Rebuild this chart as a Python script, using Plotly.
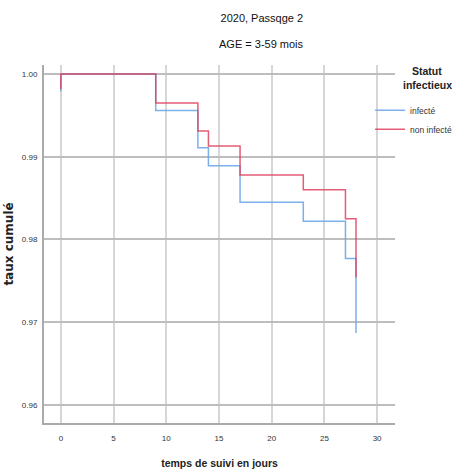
import plotly.graph_objects as go

# Data
times = [0, 9, 13, 14, 17, 23, 27, 28]
infecte = [1.0, 0.9956, 0.9911, 0.9889, 0.9845, 0.9822, 0.9777, 0.9687]
non_infecte = [1.0, 0.9965, 0.9931, 0.9913, 0.9878, 0.9860, 0.9825, 0.9754]
start_infecte = 0.9979
start_non_infecte = 0.9982
x_ticks = [0, 5, 10, 15, 20, 25, 30]
y_ticks = [0.96, 0.97, 0.98, 0.99, 1.00]

SANS = "Liberation Sans, Arial, sans-serif"

fig = go.Figure()
fig.add_trace(go.Scatter(
    x=[times[0]] + times, y=[start_infecte] + infecte,
    mode="lines", line=dict(shape="hv", color="#6FA8E8", width=1.5),
    opacity=0.9, name="infecté"))
fig.add_trace(go.Scatter(
    x=[times[0]] + times, y=[start_non_infecte] + non_infecte,
    mode="lines", line=dict(shape="hv", color="#E0405E", width=1.5),
    opacity=0.85, name="non infecté"))

fig.update_layout(
    width=453, height=470,
    margin=dict(l=44, r=58, t=65, b=47, autoexpand=False),
    paper_bgcolor="white", plot_bgcolor="white",
    font=dict(family=SANS, color="#222"),
    title=dict(text="2020, Passqge 2", x=0.578, xanchor="center", xref="container",
               y=1 - 18 / 470, yanchor="middle", yref="container",
               font=dict(size=11, family=SANS, color="#111")),
    showlegend=True,
    legend=dict(x=0.929, y=0.914, xanchor="left", yanchor="top",
                bgcolor="rgba(0,0,0,0)", font=dict(size=8.5, family=SANS, color="#333"),
                tracegroupgap=0),
    annotations=[
        dict(text="AGE = 3-59 mois", xref="paper", yref="paper", x=0.621, y=(423 - 44) / 358,
             xanchor="center", yanchor="middle", showarrow=False,
             font=dict(size=11, family=SANS, color="#111")),
        dict(text="<b>Statut</b>", xref="paper", yref="paper", x=(427 - 44) / 351, y=(423 - 71) / 358,
             xanchor="center", yanchor="middle", showarrow=False,
             font=dict(size=10.5, family=SANS, color="#222")),
        dict(text="<b>infectieux</b>", xref="paper", yref="paper", x=(427 - 44) / 351, y=(423 - 85) / 358,
             xanchor="center", yanchor="middle", showarrow=False,
             font=dict(size=10.5, family=SANS, color="#222")),
    ],
)

fig.update_xaxes(
    range=[-1.6, 31.7], tickvals=x_ticks, ticktext=[str(v) for v in x_ticks],
    showgrid=True, gridcolor="#d6d6d6", gridwidth=1.5,
    showline=True, linecolor="#aaaaaa", linewidth=2,
    zeroline=False, ticks="", ticklabelstandoff=6,
    tickfont=dict(size=8, family=SANS, color="#333"),
    title=dict(text="<b>temps de suivi en jours</b>", standoff=18,
               font=dict(size=10.5, family=SANS, color="#222")),
)
fig.update_yaxes(
    range=[0.95782, 1.00109], tickvals=y_ticks, ticktext=[f"{v:.2f}" for v in y_ticks],
    showgrid=True, gridcolor="#bdbdbd", gridwidth=1.5,
    showline=True, linecolor="#aaaaaa", linewidth=2,
    zeroline=False, ticks="", ticklabelstandoff=3,
    tickfont=dict(size=8, family=SANS, color="#333"),
    title=dict(text="<b>taux cumulé</b>", standoff=6,
               font=dict(size=12, family="DejaVu Sans, sans-serif", color="#222")),
)

fig.write_html("out.html")
